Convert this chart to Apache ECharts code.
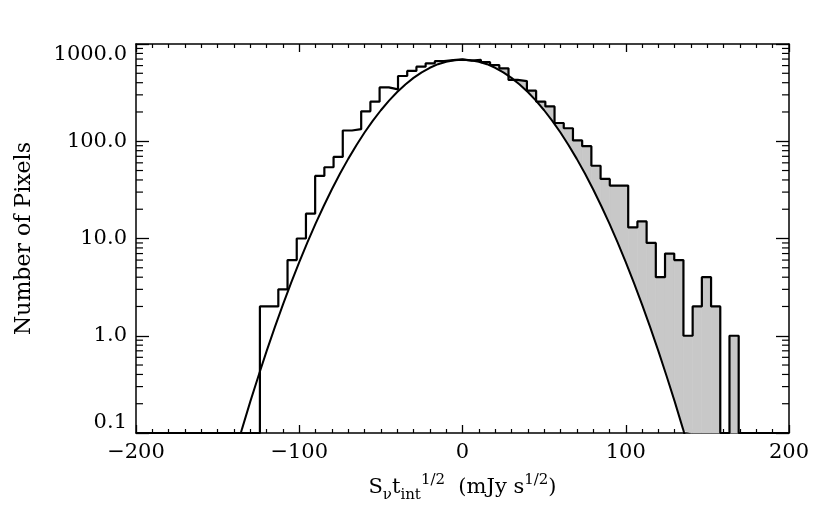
<!DOCTYPE html>
<html><head><meta charset="utf-8">
<script src="https://cdn.jsdelivr.net/npm/echarts@6/dist/echarts.min.js"></script>
<style>html,body{margin:0;padding:0;background:#fff}#c{width:830px;height:519px}</style>
</head><body><div id="c"></div>
<script>
// ---- data ----
const xTicks = [-200, -100, 0, 100, 200];
const yTicks = [0.1, 1, 10, 100, 1000];
const binStart = -124.1;      // left edge of first non-empty bin
const binWidth = 5.64;        // histogram bin width
const counts = [2, 2, 3, 6, 10, 18, 44, 54, 69, 129, 133, 203, 255, 358, 342, 469, 528, 584, 633, 668, 684, 695,
                675, 688, 650, 608, 562, 427, 416, 331, 256, 228, 154, 136, 102, 89, 56, 41, 35, 35,
                13, 15, 9, 4, 7, 6, 1, 2, 4, 2, 0, 1];
const gaussX = [-140, -135, -130, -125, -120, -115, -110, -105, -100, -95, -90, -85, -80, -75, -70, -65, -60, -55, -50, -45,
                -40, -35, -30, -25, -20, -15, -10, -5, 0, 5, 10, 15, 20, 25, 30, 35, 40, 45, 50, 55, 60, 65, 70, 75,
                80, 85, 90, 95, 100, 105, 110, 115, 120, 125, 130, 135, 140];
const gaussY = [0.0575, 0.111, 0.210, 0.386, 0.695, 1.22, 2.09, 3.50, 5.72, 9.13, 14.2, 21.6, 32.1, 46.6, 65.9, 91.1, 122.9, 162.0, 208.3, 261.5,
                320.6, 383.7, 448.5, 511.6, 569.8, 619.8, 658.0, 682.0, 690.2, 682.0, 658.0, 619.8, 569.8, 511.6, 448.5, 383.7, 320.6, 261.5, 208.3, 162.0,
                122.9, 91.1, 65.9, 46.6, 32.1, 21.6, 14.2, 9.13, 5.72, 3.50, 2.09, 1.22, 0.695, 0.386, 0.210, 0.111, 0.0575];
const fillFrom = 0;           // excess shaded for bins right of this value

// ---- build ----
const xMin = -200, xMax = 200, yMin = 0.1, yMax = 1000;
const FONT = 'DejaVu Serif';
const fillColor = '#c8c8c8';

const histPts = [[xMin, yMin]];
counts.forEach((c, i) => histPts.push([binStart + i * binWidth, Math.max(c, yMin)]));
histPts.push([binStart + counts.length * binWidth, yMin]);
histPts.push([xMax, yMin]);

const gaussPts = gaussX.map((x, i) => [x, gaussY[i]]);

const minorY = [];
for (let d = 0; d < yTicks.length - 1; d++) for (let m = 2; m <= 9; m++) minorY.push([0, yTicks[d] * m]);

function gaussPixY(api, x) {
  let j = 0;
  while (j < gaussX.length - 2 && gaussX[j + 1] < x) j++;
  const p0 = api.coord([gaussX[j], gaussY[j]]);
  const p1 = api.coord([gaussX[j + 1], gaussY[j + 1]]);
  const t = (x - gaussX[j]) / (gaussX[j + 1] - gaussX[j]);
  return p0[1] + (p1[1] - p0[1]) * t;
}

const chart = echarts.init(document.getElementById('c'), null, {renderer: 'canvas'});
const labelStyle = {color: '#000', fontFamily: FONT, fontSize: 21};
const option = {
  animation: false,
  backgroundColor: '#fff',
  grid: {left: 136, right: 41, top: 44, bottom: 86, containLabel: false},
  xAxis: [{
    type: 'value', min: xMin, max: xMax, interval: 100, position: 'bottom',
    axisLine: {show: true, onZero: false, lineStyle: {color: '#000', width: 1.5}},
    axisTick: {show: true, inside: true, length: 8, lineStyle: {color: '#000', width: 1.3}},
    minorTick: {show: true, splitNumber: 10, length: 4, lineStyle: {color: '#000', width: 1.2}},
    splitLine: {show: false}, minorSplitLine: {show: false},
    axisLabel: Object.assign({margin: 9, showMinLabel: true, showMaxLabel: true,
      formatter: v => (v < 0 ? '\u2212' + Math.abs(v) : String(v))}, labelStyle),
    name: '{n|S}{s|\u03bd}{n|t}{s|int}{p|1/2}{n|  (mJy s}{p|1/2}{n|)}',
    nameLocation: 'middle', nameGap: 40,
    nameTextStyle: {color: '#000', fontFamily: FONT, rich: {
      n: {fontFamily: FONT, fontSize: 21, color: '#000', lineHeight: 30, verticalAlign: 'middle'},
      s: {fontFamily: FONT, fontSize: 15, color: '#000', lineHeight: 15, verticalAlign: 'bottom'},
      p: {fontFamily: FONT, fontSize: 15, color: '#000', lineHeight: 15, verticalAlign: 'top'}
    }}
  }, {
    type: 'value', min: xMin, max: xMax, interval: 100, position: 'top',
    axisLine: {show: true, onZero: false, lineStyle: {color: '#000', width: 1.5}},
    axisTick: {show: true, inside: true, length: 8, lineStyle: {color: '#000', width: 1.3}},
    minorTick: {show: true, splitNumber: 10, length: 4, lineStyle: {color: '#000', width: 1.2}},
    splitLine: {show: false}, axisLabel: {show: false}
  }],
  yAxis: [{
    type: 'log', logBase: 10, min: yMin, max: yMax, position: 'left',
    axisLine: {show: true, onZero: false, lineStyle: {color: '#000', width: 1.5}},
    axisTick: {show: true, inside: true, length: 13, lineStyle: {color: '#000', width: 1.3}},
    splitLine: {show: false},
    axisLabel: Object.assign({margin: 9, showMinLabel: true, showMaxLabel: true,
      verticalAlignMaxLabel: 'top', verticalAlignMinLabel: 'bottom',
      formatter: v => Number(v).toFixed(1)}, labelStyle),
    name: 'Number of Pixels', nameLocation: 'middle', nameGap: 101, nameRotate: 90,
    nameTextStyle: {color: '#000', fontFamily: FONT, fontSize: 22}
  }, {
    type: 'log', logBase: 10, min: yMin, max: yMax, position: 'right',
    axisLine: {show: true, onZero: false, lineStyle: {color: '#000', width: 1.5}},
    axisTick: {show: true, inside: true, length: 13, lineStyle: {color: '#000', width: 1.3}},
    splitLine: {show: false}, axisLabel: {show: false}
  }],
  series: [{
    type: 'custom', name: 'excess', coordinateSystem: 'cartesian2d', xAxisIndex: 0, yAxisIndex: 0,
    silent: true, z: 1, data: [[0, 1]],
    renderItem(params, api) {
      const cs = params.coordSys; const bottom = cs.y + cs.height;
      const children = [];
      counts.forEach((c, i) => {
        const x0 = binStart + i * binWidth, x1 = x0 + binWidth;
        if (x0 < fillFrom - 0.5 || c <= 0) return;
        const pA = api.coord([x0, c]), pB = api.coord([x1, c]);
        const top = pA[1];
        const clampY = y => Math.min(bottom, Math.max(top, y));
        const pts = [[pA[0], top], [pB[0], top], [pB[0], clampY(gaussPixY(api, x1))]];
        for (let j = gaussX.length - 1; j >= 0; j--) {
          if (gaussX[j] > x0 && gaussX[j] < x1) {
            const g = api.coord([gaussX[j], gaussY[j]]);
            pts.push([g[0], clampY(g[1])]);
          }
        }
        pts.push([pA[0], clampY(gaussPixY(api, x0))]);
        children.push({type: 'polygon', shape: {points: pts}, style: {fill: fillColor, stroke: fillColor, lineWidth: 0.6}});
      });
      return {type: 'group', children};
    }
  }, {
    type: 'line', name: 'gaussian', data: gaussPts, xAxisIndex: 0, yAxisIndex: 0,
    symbol: 'none', showSymbol: false, clip: true, z: 3,
    lineStyle: {color: '#000', width: 2}
  }, {
    type: 'line', name: 'histogram', data: histPts, step: 'end', xAxisIndex: 0, yAxisIndex: 0,
    symbol: 'none', showSymbol: false, clip: true, z: 4,
    lineStyle: {color: '#000', width: 2.2}
  }, {
    type: 'custom', name: 'minorTicks', coordinateSystem: 'cartesian2d', xAxisIndex: 0, yAxisIndex: 0,
    silent: true, z: 5, data: minorY,
    renderItem(params, api) {
      const cs = params.coordSys;
      const y = api.coord([0, api.value(1)])[1];
      const st = {stroke: '#000', lineWidth: 1.2};
      return {type: 'group', children: [
        {type: 'line', shape: {x1: cs.x, y1: y, x2: cs.x + 7, y2: y}, style: st},
        {type: 'line', shape: {x1: cs.x + cs.width, y1: y, x2: cs.x + cs.width - 7, y2: y}, style: st}
      ]};
    }
  }]
};
chart.setOption(option);
</script>
</body></html>
